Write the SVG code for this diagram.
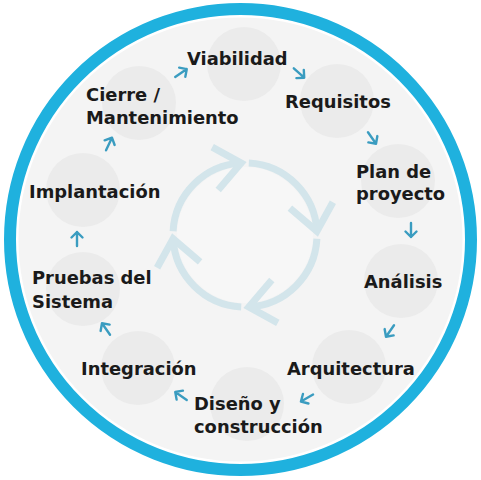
<svg xmlns="http://www.w3.org/2000/svg" xmlns:xlink="http://www.w3.org/1999/xlink" width="481" height="480" viewBox="0 0 481 480">
<style>
.bg{fill:#f4f4f4}
.node circle{fill:#ebebeb}
.lbl{font-family:"DejaVu Sans","Liberation Sans",sans-serif;font-weight:bold;font-size:17.9px;fill:#1a1a1a}
.sa{fill:none;stroke:#3a9cc0;stroke-width:2.4;stroke-linecap:round;stroke-linejoin:round}
.cyc{fill:none;stroke:#d3e5eb;stroke-width:7}
</style>
<defs>
<path id="arr" d="M-7,0 L7,0 M1.5,-5.5 L7,0 L1.5,5.5"/>
<g id="cycArc">
<path d="M173.1,231.2 A72,72 0 0 1 241.2,163.1"/>
<path d="M212.2,147.1 L241.2,163.1 L218.2,190.1"/>
</g>
</defs>
<rect width="481" height="480" fill="#ffffff"/>
<circle cx="240.5" cy="239.5" r="230.5" fill="#ffffff" stroke="#1fb1de" stroke-width="12"/>
<circle class="bg" cx="240.5" cy="239.5" r="222"/>
<circle cx="245" cy="235" r="68" fill="#f7f7f7"/>

<g id="cycle" class="cyc">
<use xlink:href="#cycArc"/>
<use xlink:href="#cycArc" transform="rotate(90 245 235)"/>
<use xlink:href="#cycArc" transform="rotate(180 245 235)"/>
<use xlink:href="#cycArc" transform="rotate(270 245 235)"/>
</g>

<g id="node-viabilidad" class="node"><circle cx="244" cy="64" r="37"/><text class="lbl" x="187" y="65">Viabilidad</text></g>
<g id="node-requisitos" class="node"><circle cx="337" cy="101" r="37"/><text class="lbl" x="285" y="108">Requisitos</text></g>
<g id="node-plan" class="node"><circle cx="398" cy="181" r="37"/><text class="lbl" x="356" y="178">Plan de</text><text class="lbl" x="356" y="200">proyecto</text></g>
<g id="node-analisis" class="node"><circle cx="401" cy="281" r="37"/><text class="lbl" x="364" y="288">Análisis</text></g>
<g id="node-arquitectura" class="node"><circle cx="349" cy="367" r="37"/><text class="lbl" x="287" y="375">Arquitectura</text></g>
<g id="node-diseno" class="node"><circle cx="247" cy="404" r="37"/><text class="lbl" x="194" y="410">Diseño y</text><text class="lbl" x="194" y="433">construcción</text></g>
<g id="node-integracion" class="node"><circle cx="138" cy="368" r="37"/><text class="lbl" x="81" y="375">Integración</text></g>
<g id="node-pruebas" class="node"><circle cx="83" cy="289" r="37"/><text class="lbl" x="32" y="284">Pruebas del</text><text class="lbl" x="32" y="308">Sistema</text></g>
<g id="node-implantacion" class="node"><circle cx="83" cy="190" r="37"/><text class="lbl" x="29" y="198">Implantación</text></g>
<g id="node-cierre" class="node"><circle cx="139" cy="103" r="37"/><text class="lbl" x="86" y="101">Cierre /</text><text class="lbl" x="86" y="124">Mantenimiento</text></g>

<g id="connectors" class="sa">
<use xlink:href="#arr" transform="translate(181 73) rotate(-34)"/>
<use xlink:href="#arr" transform="translate(299 73) rotate(42)"/>
<use xlink:href="#arr" transform="translate(372 138) rotate(55)"/>
<use xlink:href="#arr" transform="translate(411 230) rotate(90)"/>
<use xlink:href="#arr" transform="translate(390 331) rotate(125)"/>
<use xlink:href="#arr" transform="translate(307 398) rotate(150)"/>
<use xlink:href="#arr" transform="translate(181 396) rotate(-145)"/>
<use xlink:href="#arr" transform="translate(106 329) rotate(-125)"/>
<use xlink:href="#arr" transform="translate(77 239) rotate(-90)"/>
<use xlink:href="#arr" transform="translate(109 144) rotate(-65)"/>
</g>
</svg>
